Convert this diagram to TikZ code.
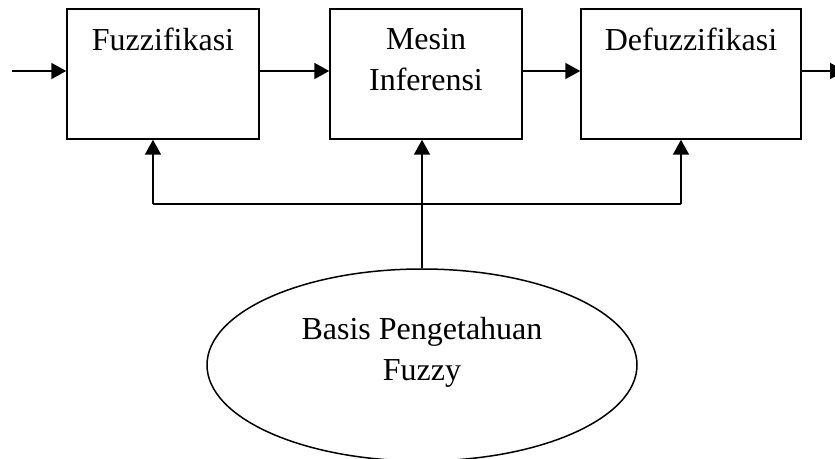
\documentclass[tikz,border=0pt]{standalone}
\usepackage{fontspec}
\setmainfont{Liberation Serif}
\usepackage{tikz}
\usetikzlibrary{shapes,arrows.meta}
\tikzstyle{block}=[rectangle,draw=black,line width=0.75pt,minimum height=65pt,inner sep=0pt]
\tikzstyle{basis}=[ellipse,draw=black,line width=0.75pt,minimum width=215pt,minimum height=96pt,inner sep=0pt]
\tikzstyle{lbl}=[anchor=north,align=center,inner sep=0pt,yshift=-9.6pt]
\tikzstyle{arr}=[line width=1pt,-{Triangle[length=7.5pt,width=8pt]}]
\newcommand{\diagfont}{\fontsize{16}{20.5}\selectfont}

\begin{document}
\begin{tikzpicture}[x=0.5pt,y=-0.5pt,font=\diagfont]
    \useasboundingbox (0,0) rectangle (835,459);
    \node[block,minimum width=96pt,label={[lbl]north:Fuzzifikasi}] (fuzz) at (163,74) {};
    \node[block,minimum width=96pt,label={[lbl]north:Mesin\\Inferensi}] (mesin) at (426,74) {};
    \node[block,minimum width=110pt,label={[lbl]north:Defuzzifikasi}] (defuzz) at (691,74) {};
    \node[basis,label={[anchor=center,align=center,yshift=6.5pt]center:Basis Pengetahuan\\Fuzzy}] (bpf) at (422,365) {};
    \coordinate (in) at (12,71);
    \coordinate (out) at (845,71);
    \coordinate (fb1) at (153,204);
    \coordinate (fb3) at (681,204);
	 \draw[arr] (in) -- (in -| fuzz.west);
	 \draw[arr] (in -| fuzz.east) -- (in -| mesin.west);
	 \draw[arr] (in -| mesin.east) -- (in -| defuzz.west);
	 \draw[arr] (in -| defuzz.east) -- (out);
%	 feedback from the knowledge base
	 \draw[arr] (bpf.north) -- (bpf.north |- mesin.south);
	 \draw[line width=1pt] (fb1) -- (fb3);
	 \draw[arr] (fb1) -- (fb1 |- fuzz.south);
	 \draw[arr] (fb3) -- (fb3 |- defuzz.south);
\end{tikzpicture}
\end{document}
